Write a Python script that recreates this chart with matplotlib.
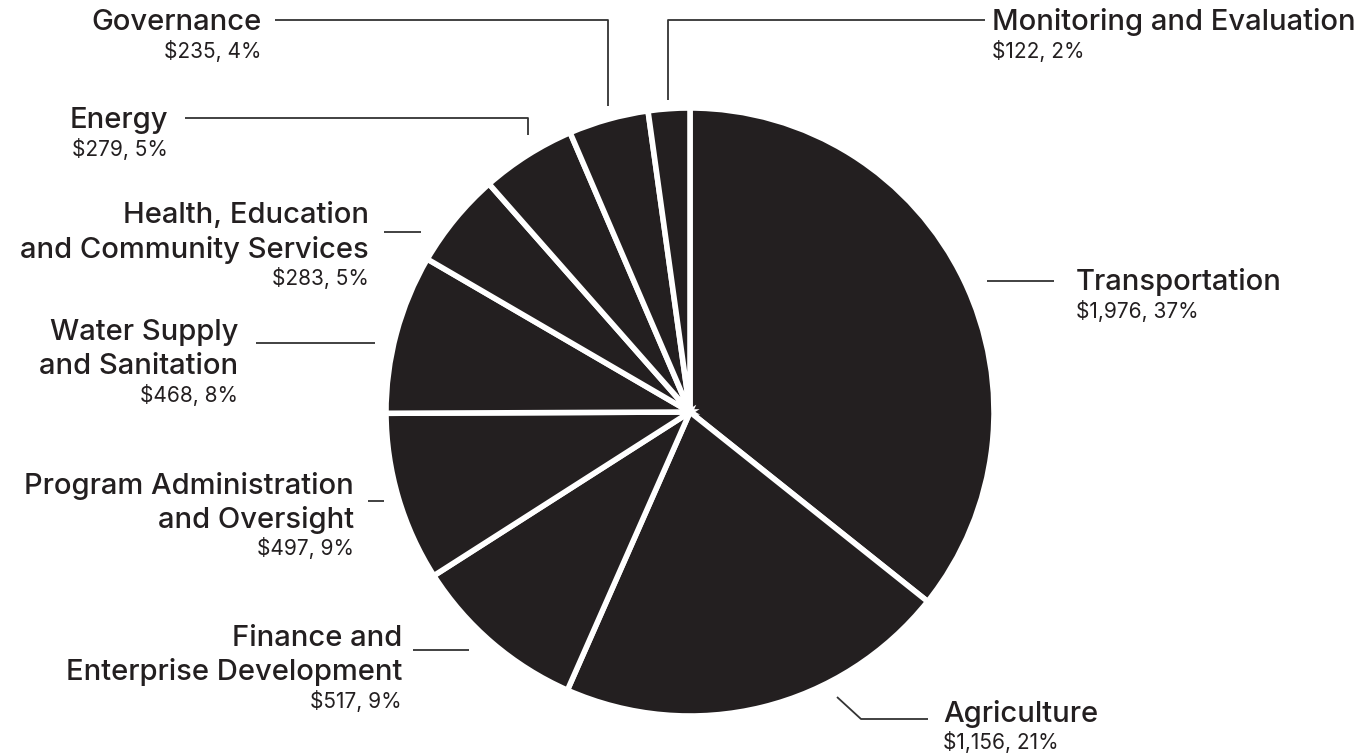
import matplotlib.pyplot as plt

# Data ----------------------------------------------
sectors = ['Transportation', 'Agriculture', 'Finance and\nEnterprise Development',
           'Program Administration\nand Oversight', 'Water Supply\nand Sanitation',
           'Health, Education\nand Community Services', 'Energy', 'Governance',
           'Monitoring and Evaluation']
amounts = [1976, 1156, 517, 497, 468, 283, 279, 235, 122]
percents = [37, 21, 9, 9, 8, 5, 5, 4, 2]

# Layout (pixel coords, y down) ---------------------
# label anchor x, centre y of first line, horizontal alignment
label_pos = [(1076, 280, 'left'), (943, 711, 'left'), (402, 636, 'right'),
             (354, 483, 'right'), (238, 330, 'right'), (369, 213, 'right'),
             (168, 118, 'right'), (262, 20, 'right'), (992, 20, 'left')]
leaders = [[(987, 281), (1054, 281)],
           [(837, 697), (861, 719), (928, 719)],
           [(413, 650), (469, 650)],
           [(368, 501), (384, 501)],
           [(256, 343), (375, 343)],
           [(384, 232), (421, 232)],
           [(185, 118), (528, 118), (528, 135)],
           [(275, 20), (608, 20), (608, 106)],
           [(985, 20), (668, 20), (668, 100)]]

dark = '#231f20'
plt.rcParams['font.family'] = ['Inter', 'DejaVu Sans']

fig = plt.figure(figsize=(13.71, 7.55), dpi=100)
ax = fig.add_axes([0, 0, 1, 1])

# y axis inverted -> start at -90 and go counterclock in data space
ax.pie(amounts, startangle=-90, counterclock=True, center=(690, 412), radius=304,
       colors=[dark] * len(amounts),
       wedgeprops=dict(edgecolor='white', linewidth=4))
ax.set_xlim(0, 1371)
ax.set_ylim(755, 0)
ax.set_aspect('auto')
ax.axis('off')

for name, amt, pct, (x, y, ha), pts in zip(sectors, amounts, percents, label_pos, leaders):
    lines = name.split('\n')
    for i, line in enumerate(lines):
        ax.text(x, y + i * 34 + 10.5, line, ha=ha, va='baseline', fontsize=21,
                fontweight='medium', color=dark)
    yv = y + (len(lines) - 1) * 34 + 31
    ax.text(x, yv + 7, '${:,}, {}%'.format(amt, pct), ha=ha, va='baseline',
            fontsize=15, fontweight='normal', color=dark)
    xs = [p[0] for p in pts]
    ys = [p[1] for p in pts]
    ax.plot(xs, ys, color='#333333', lw=1.3, solid_capstyle='butt')

plt.savefig('out.png', dpi=100)
